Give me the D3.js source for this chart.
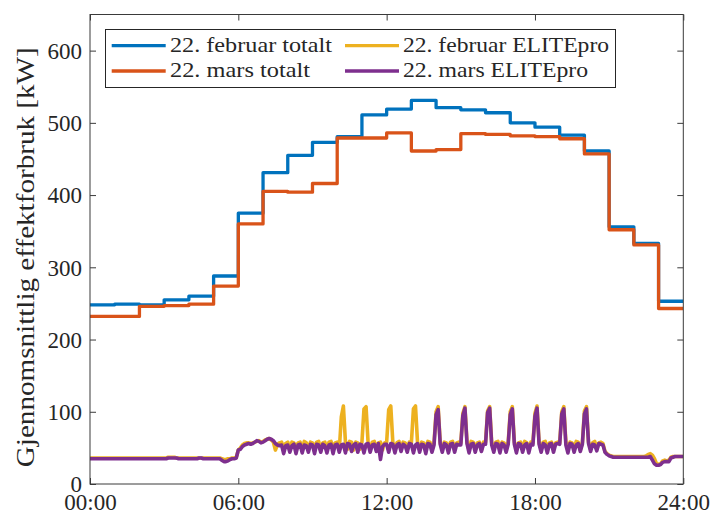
<!DOCTYPE html>
<html>
<head>
<meta charset="utf-8">
<script src="https://cdn.jsdelivr.net/npm/d3@7"></script>
<style>
  html, body { margin: 0; padding: 0; background: #fff; }
  svg { display: block; }
  text { font-family: "Liberation Serif", "Times New Roman", serif; fill: #262626; }
</style>
</head>
<body>
<svg id="chart" width="712" height="515"></svg>
<script>
// Hourly mean power (kW), hour 0..23
const febTotal  = [248, 249, 248, 255, 260, 288, 375, 431, 455, 473, 481, 511,
                   519, 531, 521, 518, 514, 500, 494, 483, 461, 356, 333, 253];
const marsTotal = [232, 232, 246, 247, 249, 274, 360, 405, 404, 416, 479, 479,
                   486, 461, 463, 485, 484, 482, 481, 478, 457, 352, 331, 243];

// ELITEpro meter readings every 5 minutes (kW), one row per hour, final value at 24:00
const febElite = [
  36,36,36,36,36,36,36,36,36,36,36,36,
  36,36,36,36,36,36,36,36,36,36,36,36,
  36,36,36,36,36,36,36,36,36,36,36,36,
  36,36,37,37,37,37,36,36,36,36,36,36,
  36,36,36,36,36,36,36,36,36,36,36,36,
  36,36,36,36,35,34,34,35,35,36,36,37,
  47,50,54,56,57,57,56,57,58,59,60,58,
  59,61,62,63,61,58,47,55,57,58,50,56,
  58,47,58,57,48,57,58,46,59,57,47,58,
  57,48,58,59,46,57,58,47,58,59,48,57,
  58,47,93,108,58,48,59,58,47,58,57,48,
  58,104,107,57,47,58,59,48,57,58,47,57,
  58,103,108,58,47,57,59,48,58,57,47,58,
  57,104,108,57,48,58,57,47,59,58,48,57,
  100,107,57,48,58,57,47,58,59,48,57,58,
  57,98,107,58,47,59,58,48,57,58,47,58,
  58,101,107,57,48,58,59,47,58,57,48,58,
  100,107,58,47,57,58,48,59,57,47,58,57,
  98,108,57,48,58,59,47,57,58,48,57,58,
  57,100,107,58,47,58,57,48,59,58,47,57,
  101,107,58,48,57,59,48,57,58,56,45,42,
  40,39,38,38,38,38,38,38,38,38,38,38,
  38,38,38,38,38,38,39,41,42,40,35,28,
  27,28,32,33,32,33,37,38,38,38,38,38,
  38
];
const marsElite = [
  35,35,35,35,35,35,35,35,35,35,35,35,
  35,35,35,35,35,35,35,35,35,35,35,35,
  35,35,35,35,35,35,35,35,35,35,35,35,
  35,35,36,36,36,36,36,35,35,35,35,35,
  35,35,35,35,35,36,36,35,35,35,35,35,
  35,35,35,35,33,31,31,32,34,35,35,36,
  47,48,52,54,55,56,55,56,58,60,59,57,
  58,60,62,63,62,60,56,54,53,54,42,53,
  54,44,53,55,42,54,55,43,54,53,44,55,
  54,42,55,54,44,55,53,43,54,55,42,54,
  55,44,54,55,43,56,55,45,54,56,44,55,
  54,43,55,56,44,54,55,45,56,34,52,55,
  55,44,56,55,43,54,56,45,55,53,44,56,
  55,43,54,56,44,55,54,42,56,55,44,54,
  96,103,55,44,56,54,43,55,56,44,55,54,
  54,95,105,56,43,55,56,44,54,56,45,55,
  55,99,105,54,44,56,55,43,56,54,44,55,
  96,104,55,43,56,55,44,54,56,43,55,54,
  94,105,55,44,56,54,43,55,56,44,55,56,
  55,97,104,54,43,56,55,44,54,56,45,55,
  97,104,56,45,55,54,46,56,55,54,44,41,
  39,38,37,37,37,37,37,37,37,37,37,37,
  37,37,37,37,37,37,37,37,38,33,28,26,
  26,27,30,31,31,31,36,37,38,38,38,38,
  38
];

const seriesNames  = ["22. februar totalt", "22. mars totalt", "22. februar ELITEpro", "22. mars ELITEpro"];
const seriesColors = ["#0072BD", "#D95319", "#EDB120", "#7E2F8E"];
const xTickValues  = [0, 6, 12, 18, 24];
const xTickLabels  = ["00:00", "06:00", "12:00", "18:00", "24:00"];
const yTickValues  = [0, 100, 200, 300, 400, 500, 600];
const yLabel = "Gjennomsnittlig effektforbruk [kW]";

const svg = d3.select("#chart");
const L = 90, R = 683.3, T = 14.5, B = 484;

const x = d3.scaleLinear().domain([0, 24]).range([L, R]);
const y = d3.scaleLinear().domain([0, 650]).range([B, T]);

// stairs: each hourly value holds until the next hour; last one extends to 24:00
const stairs = vals => vals.map((v, i) => [i, v]).concat([[24, vals[vals.length - 1]]]);
const fiveMin = vals => vals.map((v, i) => [i * 5 / 60, v]);

const data = [stairs(febTotal), stairs(marsTotal), fiveMin(febElite), fiveMin(marsElite)];
const widths = [3.3, 3.3, 3.6, 3.6];

svg.append("defs").append("clipPath").attr("id", "plotclip")
  .append("rect").attr("x", L).attr("y", T).attr("width", R - L).attr("height", B - T);

const lineStep = d3.line().x(d => x(d[0])).y(d => y(d[1])).curve(d3.curveStepAfter);
const lineLin  = d3.line().x(d => x(d[0])).y(d => y(d[1]));

const plot = svg.append("g").attr("clip-path", "url(#plotclip)");
data.forEach((d, i) => {
  plot.append("path")
    .attr("d", (i < 2 ? lineStep : lineLin)(d))
    .attr("fill", "none")
    .attr("stroke", seriesColors[i])
    .attr("stroke-width", widths[i])
    .attr("stroke-linejoin", "round")
    .attr("stroke-linecap", "butt");
});

// axes with inward ticks on all four sides
const axisColor = "#3a3a3a";
function styleAxis(g) {
  g.selectAll(".domain").remove();
  g.selectAll(".tick line").attr("stroke", axisColor).attr("stroke-width", 1);
}
const gx = svg.append("g").attr("transform", `translate(0,${B})`)
  .call(d3.axisBottom(x).tickValues(xTickValues).tickSize(-6).tickSizeOuter(0)
        .tickFormat((d, i) => xTickLabels[i]));
styleAxis(gx);
gx.selectAll(".tick text").attr("y", 26).attr("dy", 0)
  .style("font-size", "23px").attr("fill", "#262626").style("font-family", null);

const gxTop = svg.append("g").attr("transform", `translate(0,${T})`)
  .call(d3.axisTop(x).tickValues(xTickValues).tickSize(-6).tickSizeOuter(0).tickFormat(""));
styleAxis(gxTop);

const gy = svg.append("g").attr("transform", `translate(${L},0)`)
  .call(d3.axisLeft(y).tickValues(yTickValues).tickSize(-6).tickSizeOuter(0).tickPadding(8));
styleAxis(gy);
gy.selectAll(".tick text").attr("dy", "0.34em")
  .style("font-size", "23px").attr("fill", "#262626").style("font-family", null);

const gyR = svg.append("g").attr("transform", `translate(${R},0)`)
  .call(d3.axisRight(y).tickValues(yTickValues).tickSize(-6).tickSizeOuter(0).tickFormat(""));
styleAxis(gyR);

// frame
svg.append("rect")
  .attr("x", L).attr("y", T).attr("width", R - L).attr("height", B - T)
  .attr("fill", "none").attr("stroke", axisColor).attr("stroke-width", 1);

// y label
svg.append("text")
  .attr("transform", `translate(34,${(T + B) / 2 + 8}) rotate(-90)`)
  .attr("text-anchor", "middle")
  .attr("textLength", 420).attr("lengthAdjust", "spacingAndGlyphs")
  .style("font-size", "25px")
  .text(yLabel);

// legend
const leg = svg.append("g");
leg.append("rect")
  .attr("x", 105.5).attr("y", 29.5).attr("width", 510).attr("height", 58)
  .attr("fill", "#fff").attr("stroke", "#262626").attr("stroke-width", 1);
const legCols = [{lx: 111.7, tx: 170}, {lx: 345, tx: 403}];
const legRows = [45.7, 71];
const legWidths = [162, 140, 206, 185];
seriesNames.forEach((name, i) => {
  const c = legCols[Math.floor(i / 2)], ry = legRows[i % 2];
  leg.append("line")
    .attr("x1", c.lx).attr("x2", c.lx + 54).attr("y1", ry).attr("y2", ry)
    .attr("stroke", seriesColors[i]).attr("stroke-width", 3.3);
  leg.append("text")
    .attr("x", c.tx).attr("y", ry + 6)
    .attr("textLength", legWidths[i]).attr("lengthAdjust", "spacingAndGlyphs")
    .style("font-size", "21px")
    .text(name);
});
</script>
</body>
</html>
